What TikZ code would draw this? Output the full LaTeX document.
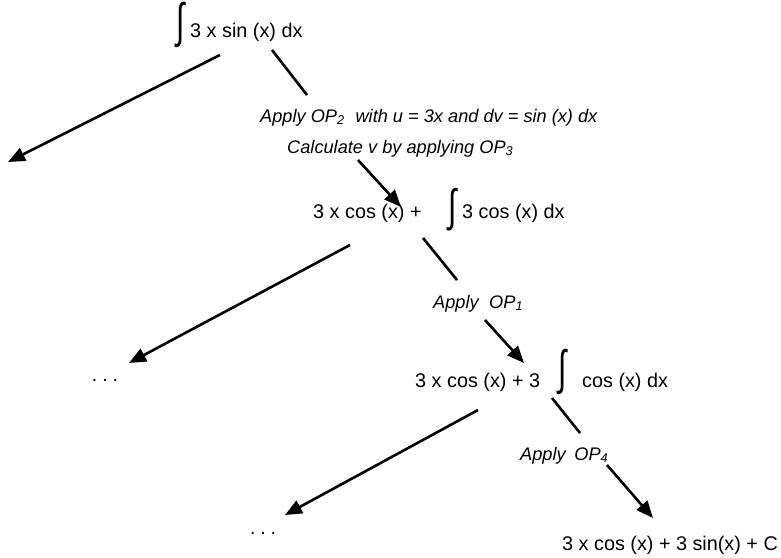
\documentclass[tikz,border=0pt]{standalone}
\usepackage{fontspec}
\setmainfont{Liberation Sans}
\usetikzlibrary{arrows.meta}
\begin{document}
\begin{tikzpicture}[x=1pt,y=-1pt,
  expr/.style={anchor=base west, inner sep=0pt, font=\fontsize{19.8}{22}\selectfont},
  lbl/.style={anchor=base west, inner sep=0pt, font=\fontsize{18.2}{22}\selectfont\itshape},
  intg/.style={anchor=center, inner sep=0pt, font=\fontsize{30}{30}\selectfont},
  dots/.style={anchor=center, inner sep=0pt, font=\fontsize{19.5}{22}\selectfont},
  conn/.style={line width=2.6pt},
  arr/.style={line width=2.6pt, -{Triangle[length=17pt,width=14pt]}},
]
\useasboundingbox (0,0) rectangle (781,557);
% expressions
\node[intg] (i1) at (181,25) {\scalebox{1}[1.6]{∫}};
\node[expr] (e1) at (190,37) {3 x sin (x) dx};
\node[expr] (e2a) at (313,218) {3 x cos (x) +};
\node[intg] (i2) at (453,210) {\scalebox{1}[1.5]{∫}};
\node[expr] (e2b) at (462,218) {3 cos (x) dx};
\node[expr] (e3a) at (415,387) {3 x cos (x) + 3};
\node[intg] (i3) at (563,372) {\scalebox{1}[1.6]{∫}};
\node[expr] (e3b) at (582,387) {cos (x) dx};
\node[expr] (e4) at (562,550) {3 x cos (x) + 3 sin(x) + C};
\node[dots] (d1) at (105,380) {.\hspace{0.25em}.\hspace{0.25em}.};
\node[dots] (d2) at (263,533) {.\hspace{0.25em}.\hspace{0.25em}.};
% labels
\node[lbl] (l1a) at (260,122) {Apply OP\textsubscript{2}\hspace{0.6em}with u = 3x and dv = sin (x) dx};
\node[lbl] (l1b) at (287,153) {Calculate v by applying OP\textsubscript{3}};
\node[lbl] (l2) at (433,308) {Apply\hspace{0.3em} OP\textsubscript{1}};
\node[lbl] (l3) at (520,460) {Apply\hspace{0.2em} OP\textsubscript{4}};
% connector endpoints
\coordinate (a1s) at (220,55);  \coordinate (a1e) at (8,162);
\coordinate (c1s) at (272,50);  \coordinate (c1e) at (307,95);
\coordinate (a2s) at (358,160); \coordinate (a2e) at (401,207);
\coordinate (a3s) at (350,245); \coordinate (a3e) at (129,363);
\coordinate (c2s) at (423,238); \coordinate (c2e) at (457,280);
\coordinate (a4s) at (485,320); \coordinate (a4e) at (524,363);
\coordinate (a5s) at (478,410); \coordinate (a5e) at (285,515);
\coordinate (c3s) at (552,398); \coordinate (c3e) at (580,433);
\coordinate (a6s) at (607,465); \coordinate (a6e) at (653,518);
\draw[arr] (a1s) -- (a1e);
\draw[conn] (c1s) -- (c1e);
\draw[arr] (a2s) -- (a2e);
\draw[arr] (a3s) -- (a3e);
\draw[conn] (c2s) -- (c2e);
\draw[arr] (a4s) -- (a4e);
\draw[arr] (a5s) -- (a5e);
\draw[conn] (c3s) -- (c3e);
\draw[arr] (a6s) -- (a6e);
\end{tikzpicture}
\end{document}
